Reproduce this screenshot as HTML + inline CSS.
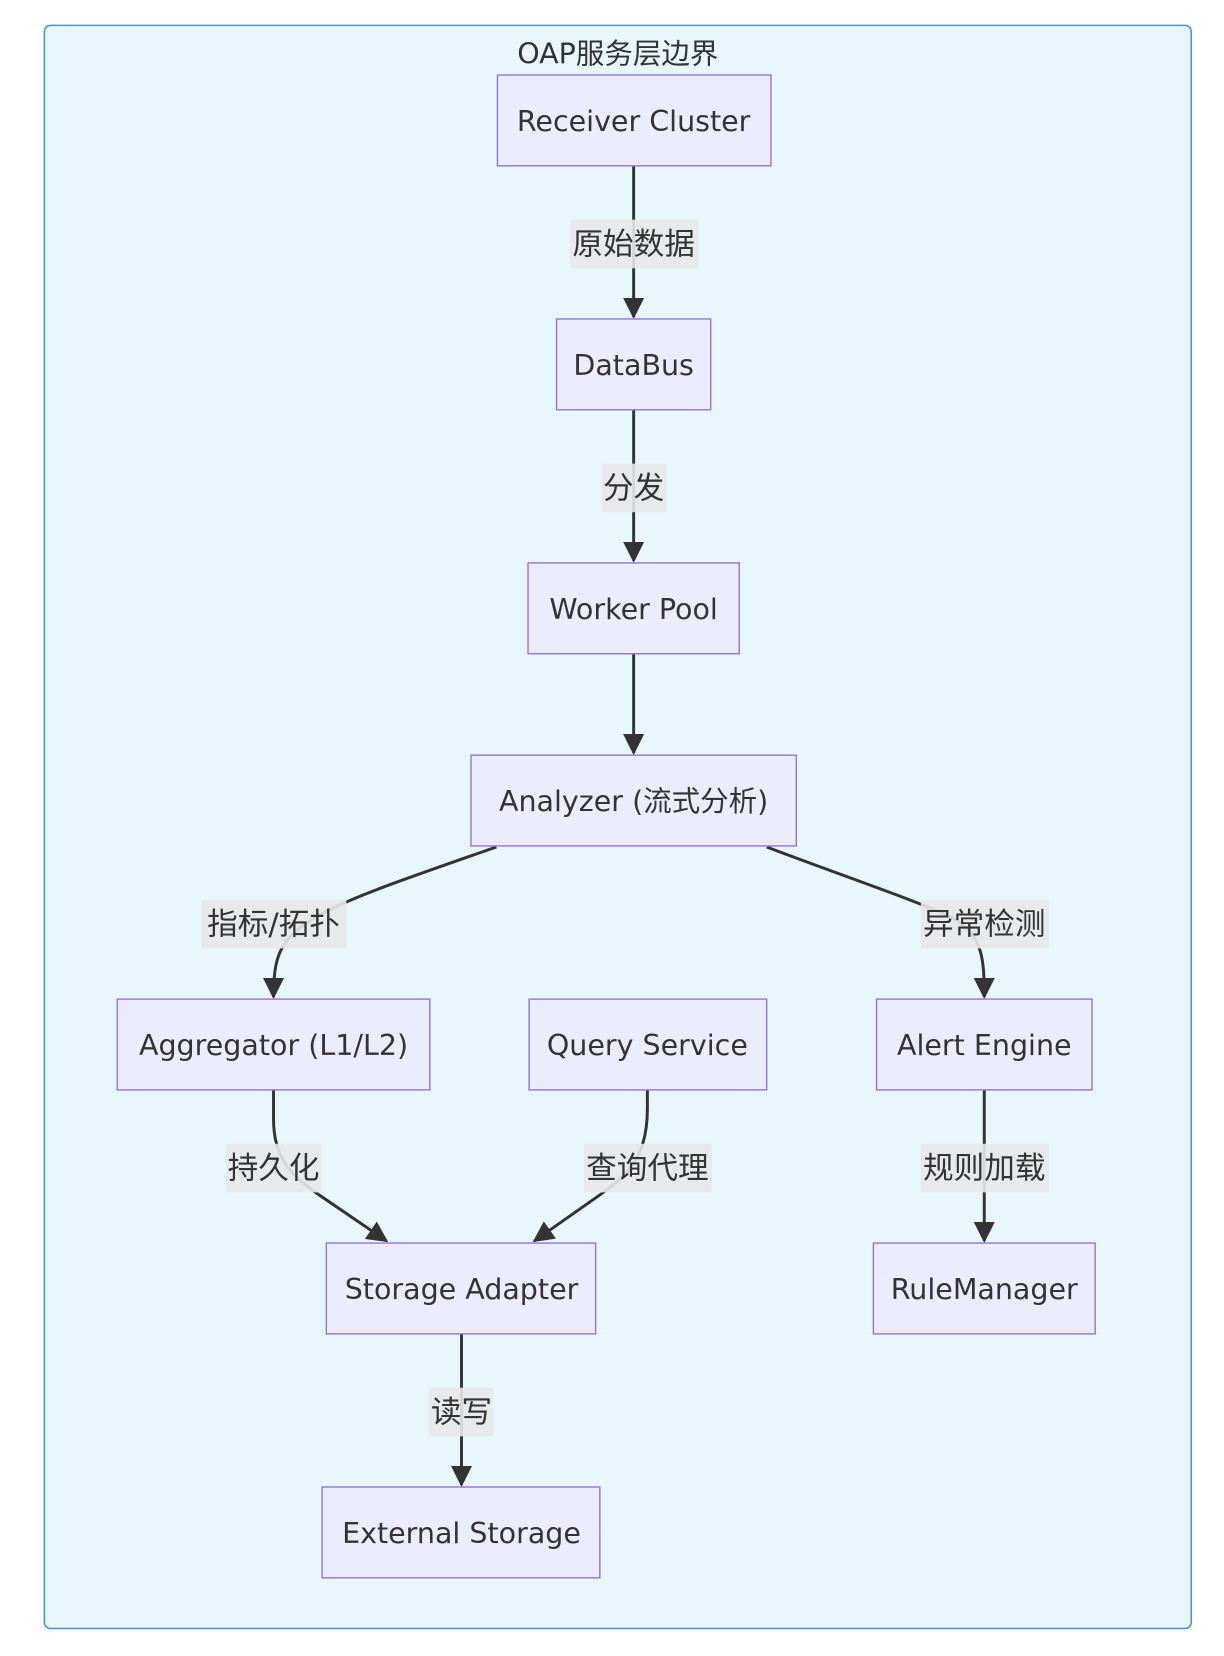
<!DOCTYPE html>
<html><head><meta charset="utf-8"><style>
html,body{margin:0;padding:0;background:#fff;}
svg{display:block;}
text{font-family:"DejaVu Sans","Noto Sans CJK SC",sans-serif;fill:#333;font-size:27px;}
text.c{font-size:29px;}
.n{fill:#ECECFF;stroke:#9370DB;stroke-width:1.3;}
.e{fill:none;stroke:#333;stroke-width:2.8;}
.lb{fill:#e8e8e8;opacity:0.9;}
</style></head><body>
<svg width="1224" height="1656" viewBox="0 0 1159 1568" xmlns="http://www.w3.org/2000/svg">
<defs><marker id="a" viewBox="0 0 10 10" refX="9" refY="5" markerWidth="7" markerHeight="7" markerUnits="userSpaceOnUse" orient="auto"><path d="M0,0L10,5L0,10z" fill="#333"/></marker>
<marker id="b" viewBox="0 0 10 10" refX="9" refY="5" markerWidth="20" markerHeight="20" markerUnits="userSpaceOnUse" orient="auto"><path d="M0,0L10,5L0,10z" fill="#333"/></marker></defs>
<rect x="42" y="24" width="1086" height="1518" rx="6" fill="#e8f6fe" stroke="#4a90e2" stroke-width="1.5"/>
<text x="585" y="60" text-anchor="middle">OAP服务层边界</text>
<!-- edges -->
<path class="e" d="M600,157V300" marker-end="url(#b)"/>
<path class="e" d="M600,388V531" marker-end="url(#b)"/>
<path class="e" d="M600,619V713" marker-end="url(#b)"/>
<path class="e" d="M470,802 C390,830 330,850 300,868 C265,888 259,905 259,944" marker-end="url(#b)"/>
<path class="e" d="M726,802 C800,830 860,850 900,868 C930,885 932,905 932,944" marker-end="url(#b)"/>
<path class="e" d="M259,1032 V1060 C259,1100 280,1115 300,1130 L366,1175" marker-end="url(#b)"/>
<path class="e" d="M613,1032 V1050 C613,1100 590,1115 570,1130 L506,1175" marker-end="url(#b)"/>
<path class="e" d="M932,1032V1175" marker-end="url(#b)"/>
<path class="e" d="M437,1263V1406" marker-end="url(#b)"/>
<!-- labels -->
<rect class="lb" x="540" y="208" width="121" height="46"/><text class="c" x="600" y="241" text-anchor="middle">原始数据</text>
<rect class="lb" x="570" y="439" width="61" height="46"/><text class="c" x="600" y="472" text-anchor="middle">分发</text>
<rect class="lb" x="191" y="852" width="137" height="46"/><text class="c" x="259" y="885" text-anchor="middle">指标/拓扑</text>
<rect class="lb" x="872" y="852" width="121" height="46"/><text class="c" x="932" y="885" text-anchor="middle">异常检测</text>
<rect class="lb" x="214" y="1083" width="90" height="46"/><text class="c" x="259" y="1116" text-anchor="middle">持久化</text>
<rect class="lb" x="553" y="1083" width="121" height="46"/><text class="c" x="613" y="1116" text-anchor="middle">查询代理</text>
<rect class="lb" x="872" y="1083" width="121" height="46"/><text class="c" x="932" y="1116" text-anchor="middle">规则加载</text>
<rect class="lb" x="406" y="1314" width="61" height="46"/><text class="c" x="437" y="1347" text-anchor="middle">读写</text>
<!-- nodes -->
<rect class="n" x="471" y="71" width="259" height="86"/><text x="600" y="124" text-anchor="middle">Receiver Cluster</text>
<rect class="n" x="527" y="302" width="146" height="86"/><text x="600" y="355" text-anchor="middle">DataBus</text>
<rect class="n" x="500" y="533" width="200" height="86"/><text x="600" y="586" text-anchor="middle">Worker Pool</text>
<rect class="n" x="446" y="715" width="308" height="86"/><text x="600" y="768" text-anchor="middle">Analyzer (流式分析)</text>
<rect class="n" x="111" y="946" width="296" height="86"/><text x="259" y="999" text-anchor="middle">Aggregator (L1/L2)</text>
<rect class="n" x="501" y="946" width="225" height="86"/><text x="613" y="999" text-anchor="middle">Query Service</text>
<rect class="n" x="830" y="946" width="204" height="86"/><text x="932" y="999" text-anchor="middle">Alert Engine</text>
<rect class="n" x="309" y="1177" width="255" height="86"/><text x="437" y="1230" text-anchor="middle">Storage Adapter</text>
<rect class="n" x="827" y="1177" width="210" height="86"/><text x="932" y="1230" text-anchor="middle">RuleManager</text>
<rect class="n" x="305" y="1408" width="263" height="86"/><text x="437" y="1461" text-anchor="middle">External Storage</text>
</svg>
</body></html>
